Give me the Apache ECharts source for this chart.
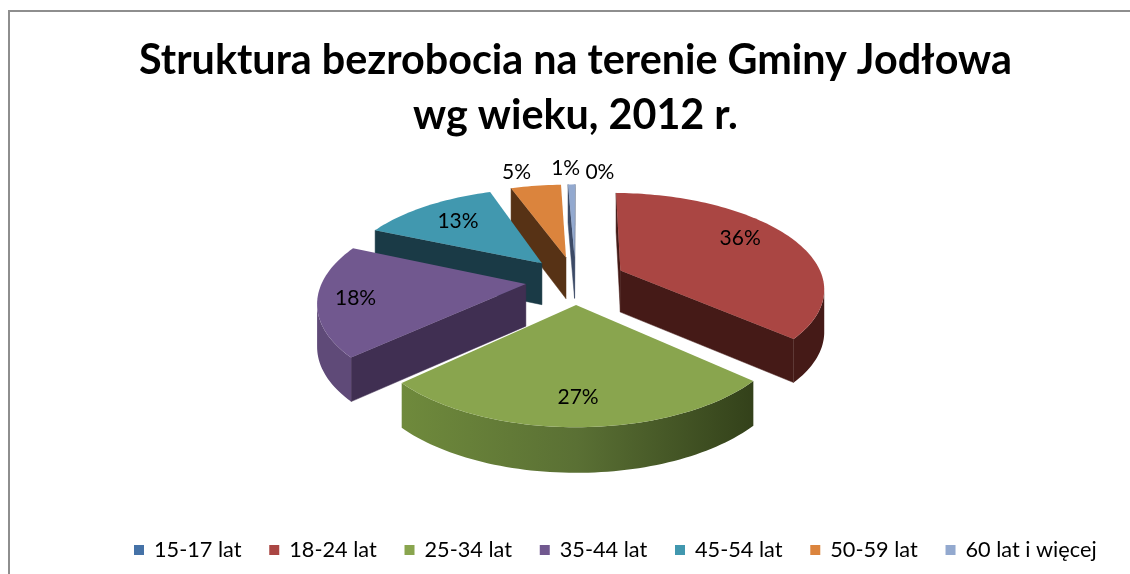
<!DOCTYPE html>
<html><head><meta charset="utf-8">
<style>html,body{margin:0;padding:0;background:#fff}#c{width:1130px;height:574px}</style>
<script src="https://cdn.jsdelivr.net/npm/echarts@6/dist/echarts.min.js"></script>
</head><body><div id="c"></div>
<script>
var categories = ['15-17 lat','18-24 lat','25-34 lat','35-44 lat','45-54 lat','50-59 lat','60 lat i więcej'];
var shares = [0,36,27,18,13,5,0.7];
var topColors = ['#4572a7','#aa4643','#89a54e','#71588f','#4198af','#db843d','#93a9cf'];
var edgeColors = ['#22395a','#451a17','#3a4a1c','#402f52','#1a3a46','#573215','#3c4a66'];
var arcColors = ['#22395a','#451a17',['#6f8a3c','#5a7034','#33411a'],'#5f4a78','#1a3a46','#573215','#3c4a66'];
var drawOrder = [0,6,5,4,1,2,3];
var labelFractions = [1.24,0.75,0.78,0.82,0.7,1.28,1.33];
var labelAngleShift = [6,-5,0,0,0,-4,-1.5];

var CX=575.5, CY=280, R=203, EXPLODE=50, TILT=0.48, PERSP=0.00084, DEPTH=42, START=1.2;
function rad(d){return d*Math.PI/180;}
function project(X,Y,z){var s=1+PERSP*Y;return [CX+X*s, CY+Y*TILT*s+(z||0)*(1+PERSP*Y*0.4)];}
function cumStart(i){var t=0;for(var k=0;k<i;k++)t+=shares[k];return START+t*3.6;}

function renderSlice(idx){
  return function(params,api){
    var val=api.value(0), a0=cumStart(idx), a1=a0+val*3.6, m=(a0+a1)/2;
    var ox=EXPLODE*Math.sin(rad(m)), oy=-EXPLODE*Math.cos(rad(m));
    var children=[];
    var pt=function(a,f){return [ox+R*f*Math.sin(rad(a)), oy-R*f*Math.cos(rad(a))];};
    var top=function(w,z){return project(w[0],w[1],z);};
    if(val>0){
      var arcW=[],n=Math.max(2,Math.ceil((a1-a0)/1.5));
      for(var i=0;i<=n;i++)arcW.push(pt(a0+(a1-a0)*i/n,1));
      var apexW=[ox,oy];
      var wall=function(p,q,fill){
        var a=top(p,0),b=top(q,0);
        if(b[0]<a[0]) children.push({type:'polygon',shape:{points:[a,b,top(q,DEPTH),top(p,DEPTH)]},style:{fill:fill,stroke:fill,lineWidth:0.5}});
      };
      wall(apexW,arcW[0],edgeColors[idx]);
      wall(arcW[n],apexW,edgeColors[idx]);
      var run=[];
      var flush=function(){
        if(run.length>1){
          var pts=run.map(function(w){return top(w,0);}).concat(run.slice().reverse().map(function(w){return top(w,DEPTH);}));
          var c=arcColors[idx], fill=c;
          if(Array.isArray(c)) fill=new echarts.graphic.LinearGradient(0,0,1,0,c.map(function(col,j){return {offset:j/(c.length-1),color:col};}));
          children.push({type:'polygon',shape:{points:pts},style:{fill:fill}});
        }
        run=[];
      };
      for(i=0;i<n;i++){
        var p=top(arcW[i],0),q=top(arcW[i+1],0);
        if(q[0]<p[0]){if(!run.length)run.push(arcW[i]);run.push(arcW[i+1]);}else flush();
      }
      flush();
      var poly=[top(apexW,0)].concat(arcW.map(function(w){return top(w,0);}));
      children.push({type:'polygon',shape:{points:poly},style:{fill:topColors[idx]}});
    }
    var lw=pt(m+labelAngleShift[idx],labelFractions[idx]), lp=top(lw,0);
    children.push({type:'text',x:lp[0],y:lp[1],z2:50,style:{text:Math.round(val)+'%',fill:'#000',font:'21px Lato',align:'center',verticalAlign:'middle'}});
    return {type:'group',children:children};
  };
}

var series=categories.map(function(name,i){
  return {type:'custom',name:name,coordinateSystem:'none',data:[[shares[i]]],z:2+drawOrder.indexOf(i),
    itemStyle:{color:topColors[i]},renderItem:renderSlice(i),silent:true,animation:false};
});

var chart=echarts.init(document.getElementById('c'),null,{renderer:'canvas'});
chart.setOption({
  animation:false,
  backgroundColor:'#fff',
  title:{text:'Struktura bezrobocia na terenie Gminy Jodłowa\nwg wieku, 2012 r.',left:570.5,top:28,textAlign:'center',
    textStyle:{fontFamily:'Lato',fontWeight:'bold',fontSize:41.3,lineHeight:55,color:'#000',align:'center'}},
  legend:{data:categories,left:129,top:534,icon:'rect',itemWidth:10,itemHeight:10,itemGap:27.8,
    textStyle:{fontFamily:'Lato',fontSize:21.7,color:'#000',padding:[0,0,0,5]}},
  graphic:[{type:'polyline',shape:{points:[[9,574],[9,11],[1130,11]]},style:{stroke:'#8e8e8e',lineWidth:2,fill:null},silent:true}],
  series:series
});
</script></body></html>
